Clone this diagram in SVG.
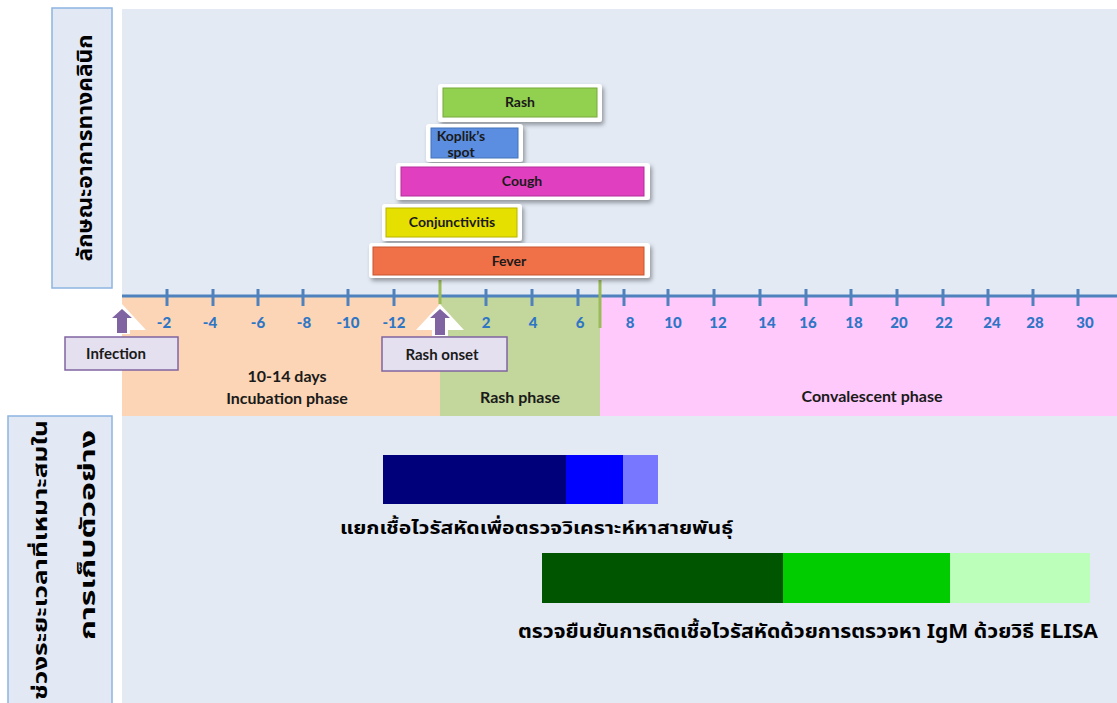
<svg xmlns="http://www.w3.org/2000/svg" width="1117" height="703" viewBox="0 0 1117 703">
<defs>
<filter id="sh" x="-10%" y="-30%" width="120%" height="170%">
<feDropShadow dx="2" dy="3" stdDeviation="2" flood-color="#000" flood-opacity="0.35"/>
</filter>
<style>
.panel{fill:#e3eaf4}
.lbl{fill:#e2e9f4;stroke:#8db4e2;stroke-width:1.5}
.th{font-family:"Noto Sans Thai","Noto Sans","DejaVu Sans",sans-serif;font-weight:bold;fill:#000}
.en{font-family:Lato,"Open Sans",sans-serif;font-weight:bold;fill:#1a1a1a}
.ax{font-family:Lato,"Open Sans",sans-serif;font-weight:900;font-size:15px;fill:#2e75c6;text-anchor:middle}
.tick{stroke:#4f81bd;stroke-width:3}
.outer{fill:#fff}
.sym{font-family:Lato,"Open Sans",sans-serif;font-weight:bold;font-size:14px;fill:#1a1a1a;text-anchor:middle}
.ev{fill:#e5e0ef;stroke:#8064a2;stroke-width:1.5}
.arrW{fill:#fff}
.arrP{fill:#8064a2}
</style>
</defs>
<rect width="1117" height="703" fill="#fff"/>
<!-- panels -->
<rect class="panel" x="122" y="9" width="995" height="288"/>
<rect class="panel" x="122" y="416" width="995" height="287"/>
<!-- phases -->
<g id="phases">
<rect x="122" y="297" width="318" height="119" fill="#fbd5b5"/>
<rect x="440" y="297" width="160" height="119" fill="#c3d69b"/>
<rect x="600" y="297" width="517" height="119" fill="#ffc9fb"/>
<text class="en" x="287" y="382" font-size="16" text-anchor="middle">10-14 days</text>
<text class="en" x="287" y="404" font-size="16" text-anchor="middle">Incubation phase</text>
<text class="en" x="520" y="403" font-size="16" text-anchor="middle">Rash phase</text>
<text class="en" x="872" y="402" font-size="16" text-anchor="middle">Convalescent phase</text>
</g>
<!-- left labels -->
<g id="label-clinical">
<rect class="lbl" x="52" y="8" width="60" height="280"/>
<text class="th" font-size="21" text-anchor="middle" textLength="227" lengthAdjust="spacingAndGlyphs" transform="translate(92,148) rotate(-90)">ลักษณะอาการทางคลินิก</text>
</g>
<g id="label-sampling">
<rect class="lbl" x="8" y="416" width="104" height="290"/>
<text class="th" font-size="19" text-anchor="middle" textLength="280" lengthAdjust="spacingAndGlyphs" transform="translate(47,560) rotate(-90)">ช่วงระยะเวลาที่เหมาะสมใน</text>
<text class="th" font-size="21" text-anchor="middle" textLength="210" lengthAdjust="spacingAndGlyphs" transform="translate(95,535) rotate(-90)">การเก็บตัวอย่าง</text>
</g>
<!-- axis -->
<g id="axis">
<line x1="122" y1="296" x2="1117" y2="296" stroke="#4f81bd" stroke-width="3"/>
<g class="tick">
<line x1="167" y1="289" x2="167" y2="306"/><line x1="213" y1="289" x2="213" y2="306"/>
<line x1="258" y1="289" x2="258" y2="306"/><line x1="303" y1="289" x2="303" y2="306"/>
<line x1="348" y1="289" x2="348" y2="306"/><line x1="394" y1="289" x2="394" y2="306"/>
<line x1="486" y1="289" x2="486" y2="306"/><line x1="532" y1="289" x2="532" y2="306"/>
<line x1="578" y1="289" x2="578" y2="306"/><line x1="624" y1="289" x2="624" y2="306"/>
<line x1="668" y1="289" x2="668" y2="306"/><line x1="714" y1="289" x2="714" y2="306"/>
<line x1="760" y1="289" x2="760" y2="306"/><line x1="806" y1="289" x2="806" y2="306"/>
<line x1="851" y1="289" x2="851" y2="306"/><line x1="897" y1="289" x2="897" y2="306"/>
<line x1="943" y1="289" x2="943" y2="306"/><line x1="988" y1="289" x2="988" y2="306"/>
<line x1="1033" y1="289" x2="1033" y2="306"/><line x1="1078" y1="289" x2="1078" y2="306"/>
</g>
<line x1="440" y1="280" x2="440" y2="304" stroke="#9bbb59" stroke-width="3"/>
<line x1="600" y1="280" x2="600" y2="328" stroke="#9bbb59" stroke-width="3"/>
<text class="ax" x="164" y="328">-2</text><text class="ax" x="210" y="328">-4</text>
<text class="ax" x="258" y="328">-6</text><text class="ax" x="304" y="328">-8</text>
<text class="ax" x="348" y="328">-10</text><text class="ax" x="394" y="328">-12</text>
<text class="ax" x="486" y="328">2</text><text class="ax" x="533" y="328">4</text>
<text class="ax" x="580" y="328">6</text><text class="ax" x="630" y="328">8</text>
<text class="ax" x="673" y="328">10</text><text class="ax" x="718" y="328">12</text>
<text class="ax" x="767" y="328">14</text><text class="ax" x="808" y="328">16</text>
<text class="ax" x="854" y="328">18</text><text class="ax" x="899" y="328">20</text>
<text class="ax" x="944" y="328">22</text><text class="ax" x="992" y="328">24</text>
<text class="ax" x="1035" y="328">28</text><text class="ax" x="1085" y="328">30</text>
</g>
<!-- symptom bars -->
<g id="rash">
<rect class="outer" x="438" y="84" width="164" height="38" rx="3" filter="url(#sh)"/>
<rect x="443" y="88" width="154" height="29" fill="#92d050" stroke="#76a83c" stroke-width="1"/>
<text class="sym" x="520" y="107">Rash</text>
</g>
<g id="koplik">
<rect class="outer" x="426" y="124" width="97" height="38" rx="3" filter="url(#sh)"/>
<rect x="431" y="128" width="87" height="30" fill="#5b8ee0" stroke="#4372b8" stroke-width="1"/>
<text class="sym" x="461" y="141">Koplik’s</text>
<text class="sym" x="461" y="157">spot</text>
</g>
<g id="cough">
<rect class="outer" x="396" y="163" width="254" height="37" rx="3" filter="url(#sh)"/>
<rect x="401" y="167" width="243" height="29" fill="#e040c0" stroke="#b52e9a" stroke-width="1"/>
<text class="sym" x="522" y="186">Cough</text>
</g>
<g id="conjunctivitis">
<rect class="outer" x="382" y="204" width="140" height="37" rx="3" filter="url(#sh)"/>
<rect x="386" y="208" width="131" height="29" fill="#e6e000" stroke="#b8b300" stroke-width="1"/>
<text class="sym" x="452" y="227">Conjunctivitis</text>
</g>
<g id="fever">
<rect class="outer" x="369" y="243" width="281" height="35" rx="3" filter="url(#sh)"/>
<rect x="373" y="247" width="271" height="28" fill="#f07048" stroke="#c85530" stroke-width="1"/>
<text class="sym" x="509" y="266">Fever</text>
</g>
<!-- events -->
<g id="infection">
<rect class="ev" x="65" y="337" width="113" height="33"/>
<text class="en" x="116" y="359" font-size="15" text-anchor="middle">Infection</text>
</g>
<g id="rash-onset">
<rect class="ev" x="382" y="337" width="125" height="34"/>
<text class="en" x="442" y="360" font-size="15" text-anchor="middle">Rash onset</text>
</g>
<g id="connectors">
<polygon class="arrW" points="122,304 146,330 130,330 130,334 114,334 114,330 98,330"/>
<polygon class="arrP" points="122,309 132,318 127,318 127,333 117,333 117,318 112,318"/>
<polygon class="arrW" points="440,304 464,330 448,330 448,336 432,336 432,330 416,330"/>
<polygon class="arrP" points="440,309 450,318 445,318 445,335 435,335 435,318 430,318"/>
</g>
<!-- sampling bars -->
<g id="isolation">
<rect x="383" y="455" width="183" height="49" fill="#00007a"/>
<rect x="566" y="455" width="57" height="49" fill="#0000ff"/>
<rect x="623" y="455" width="35" height="49" fill="#7777ff"/>
<text class="th" x="340" y="534" font-size="18" textLength="393" lengthAdjust="spacingAndGlyphs">แยกเชื้อไวรัสหัดเพื่อตรวจวิเคราะห์หาสายพันธุ์</text>
</g>
<g id="igm">
<rect x="542" y="553" width="241" height="50" fill="#005500"/>
<rect x="783" y="553" width="167" height="50" fill="#00cc00"/>
<rect x="950" y="553" width="140" height="50" fill="#bbffbb"/>
<text class="th" x="518" y="638" font-size="19" textLength="580" lengthAdjust="spacingAndGlyphs">ตรวจยืนยันการติดเชื้อไวรัสหัดด้วยการตรวจหา IgM ด้วยวิธี ELISA</text>
</g>
</svg>
